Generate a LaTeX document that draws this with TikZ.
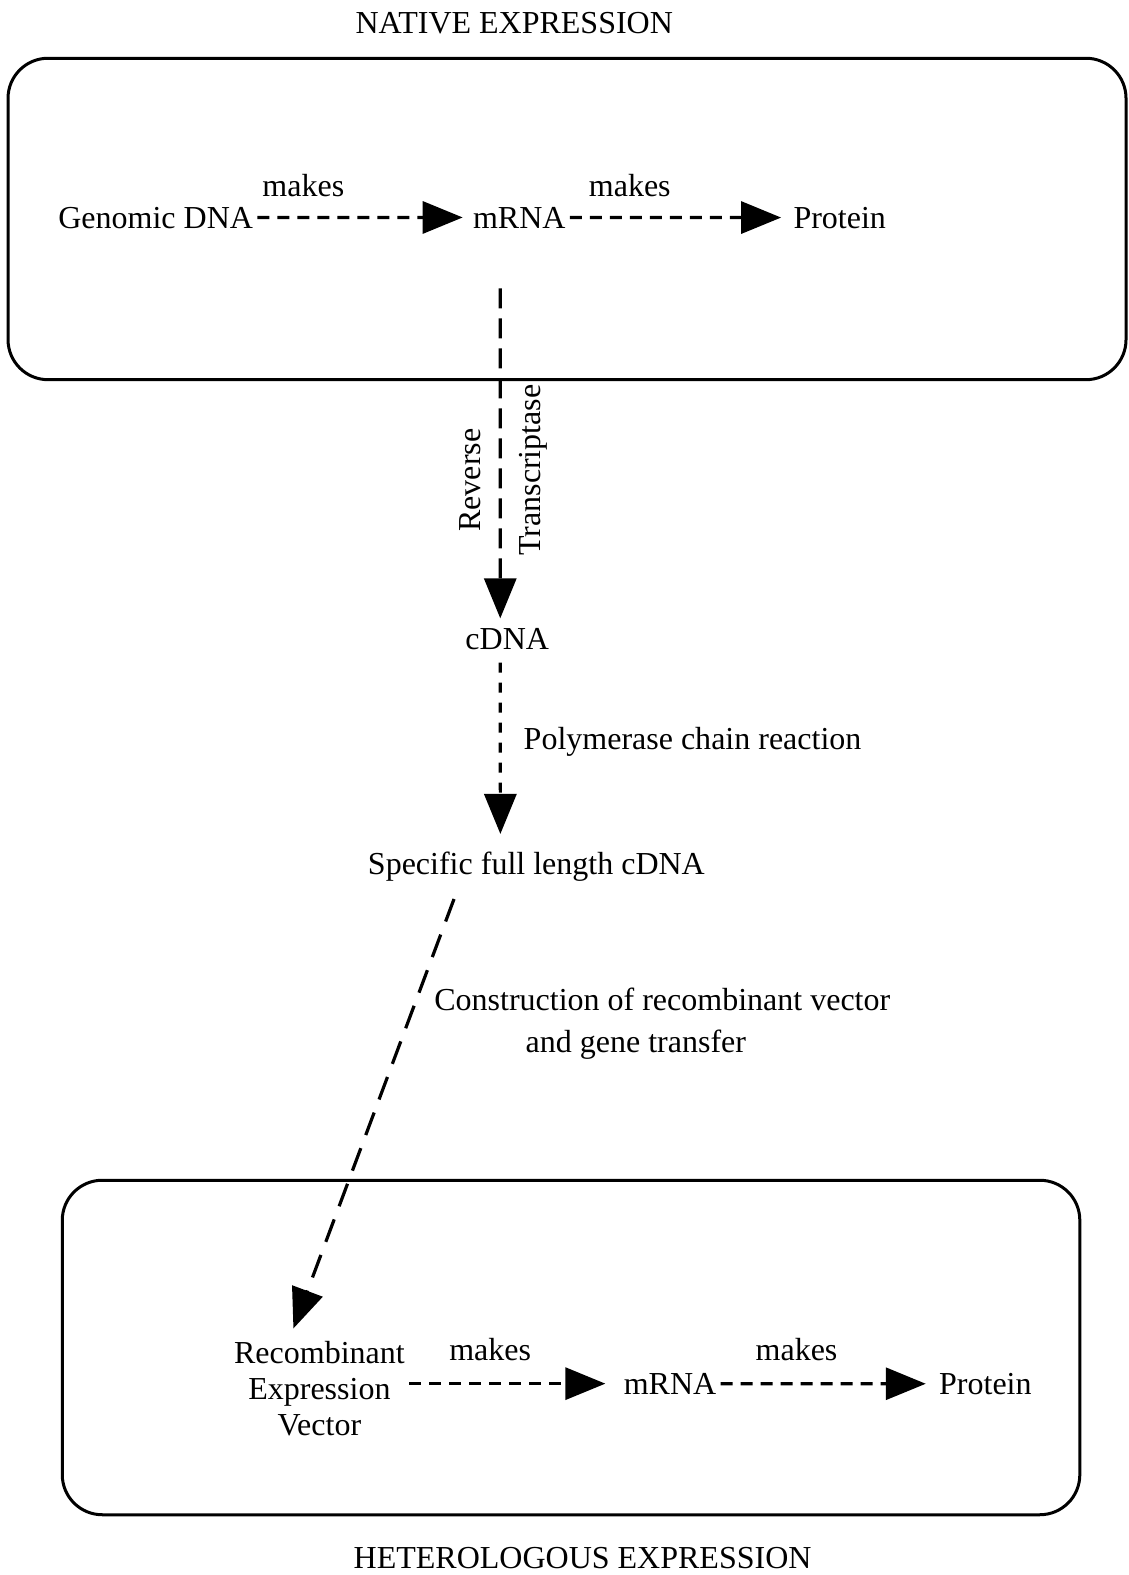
\documentclass[tikz,border=0pt]{standalone}
\usepackage{fontspec}
\setmainfont{Liberation Serif}
\usetikzlibrary{arrows.meta}

\begin{document}
\begin{tikzpicture}[x=0.5022pt, y=-0.5022pt,
  every node/.style={font=\fontsize{16}{18}\selectfont, inner sep=2pt},
  lbl/.style={anchor=base},
  box/.style={line width=1.5pt, rounded corners=20pt},
  tip/.style={-{Triangle[length=20pt,width=16pt]}},
  flow/.style={tip, line width=1.6pt, dash pattern=on 6pt off 4pt},
  flowlong/.style={tip, line width=1.6pt, dash pattern=on 10pt off 5pt},
  flowshort/.style={tip, line width=1.6pt, dash pattern=on 5pt off 5pt}]
\useasboundingbox (0,0) rectangle (1123,1568);
\draw[box] (8,58) rectangle (1121,378);
\draw[box] (62,1175) rectangle (1075,1508);
\node[lbl] (native) at (512,33) {NATIVE EXPRESSION};
\node[lbl] (hetero) at (580,1562) {HETEROLOGOUS EXPRESSION};
% native row
\node[lbl] (gdna) at (155,227) {Genomic DNA};
\node[lbl] (mrnaA) at (517,227) {mRNA};
\node[lbl] (protA) at (836,227) {Protein};
\node[lbl] (makesA) at (302,196) {makes};
\node[lbl] (makesB) at (627,196) {makes};
\draw[flow, shorten >=3pt] (gdna.east) -- (mrnaA.west);
\draw[flow, shorten >=4pt] (mrnaA.east) -- (protA.west);
% down to cDNA
\node[lbl] (cdna) at (505,647) {cDNA};
\node[rotate=90] (rev) at (468,478) {Reverse};
\node[rotate=90] (rtx) at (531,468) {Transcriptase};
\draw[flowlong] ([xshift=-9.5pt,yshift=-28pt]mrnaA.south) -- ([xshift=-3.5pt,yshift=3pt]cdna.north);
\node[lbl, anchor=base west] (pcr) at (517,746) {Polymerase chain reaction};
\node[lbl] (spec) at (534,871) {Specific full length cDNA};
\draw[flowshort, shorten >=7pt] ([xshift=-3.5pt,yshift=-4pt]cdna.south) -- ([xshift=-18pt]spec.north);
% vector construction
\coordinate (vstart) at (452,895);
\node[lbl, anchor=base west] (constrA) at (428,1006) {Construction of recombinant vector};
\node[lbl] (constrB) at (633,1048) {and gene transfer};
% heterologous row
\node[align=center] (recomb) at (318,1382) {Recombinant\\Expression\\Vector};
\node[lbl] (mrnaB) at (667,1388) {mRNA};
\node[lbl] (protB) at (981,1388) {Protein};
\node[lbl] (makesC) at (488,1354) {makes};
\node[lbl] (makesD) at (793,1354) {makes};
\draw[flowlong, dash pattern=on 12pt off 7pt] (vstart) -- ([xshift=-13pt,yshift=4pt]recomb.north);
\draw[flow, shorten >=7pt] (recomb.east |- mrnaB.west) -- (mrnaB.west);
\draw[flow, shorten >=4.5pt] (mrnaB.east) -- (protB.west);
\end{tikzpicture}
\end{document}
